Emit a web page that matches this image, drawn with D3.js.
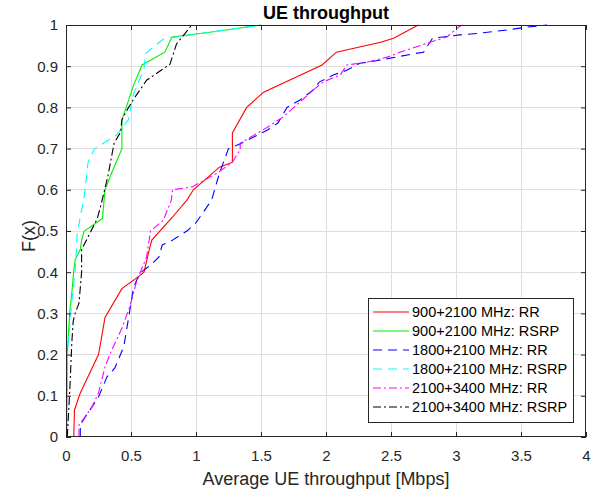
<!DOCTYPE html>
<html>
<head>
<meta charset="utf-8">
<script src="https://cdn.jsdelivr.net/npm/d3@7"></script>
<style>
  html, body { margin: 0; padding: 0; background: #fff; }
  svg { display: block; font-family: Arial, "Liberation Sans", Helvetica, sans-serif; }
</style>
</head>
<body>
<svg id="chart" width="600" height="493"></svg>
<script>
// Empirical CDFs of average UE throughput for each band combination / scheduler
const seriesNames = [
  "900+2100 MHz: RR",
  "900+2100 MHz: RSRP",
  "1800+2100 MHz: RR",
  "1800+2100 MHz: RSRP",
  "2100+3400 MHz: RR",
  "2100+3400 MHz: RSRP"
];

const rr900X = [0.06,0.065,0.11,0.22,0.25,0.27,0.30,0.43,0.56,0.60,0.64,0.66,0.82,0.93,0.98,1.18,1.28,1.28,1.39,1.52,1.97,2.08,2.42,2.52,2.71];
const rr900Y = [0,0.065,0.107,0.18,0.20,0.235,0.29,0.36,0.39,0.40,0.454,0.478,0.534,0.575,0.60,0.655,0.667,0.738,0.80,0.837,0.903,0.934,0.958,0.968,1.0];

const rsrp900X = [0.005,0.01,0.03,0.045,0.06,0.07,0.11,0.12,0.14,0.28,0.30,0.35,0.43,0.43,0.47,0.52,0.585,0.76,0.815,1.12,1.5];
const rsrp900Y = [0,0.204,0.308,0.35,0.405,0.43,0.455,0.478,0.50,0.53,0.60,0.64,0.70,0.77,0.806,0.854,0.903,0.934,0.971,0.983,1.0];

const rr1800X = [0.11,0.11,0.25,0.315,0.375,0.445,0.485,0.52,0.57,0.65,0.715,0.74,0.80,0.93,1.0,1.12,1.18,1.25,1.35,1.55,1.63,1.70,1.80,1.90,1.95,2.06,2.16,2.26,2.42,2.67,2.75,2.82,3.03,3.18,3.39,3.55,3.70];
const rr1800Y = [0,0.03,0.097,0.146,0.167,0.22,0.296,0.364,0.398,0.417,0.437,0.466,0.474,0.50,0.52,0.575,0.64,0.70,0.713,0.745,0.762,0.80,0.818,0.842,0.862,0.879,0.89,0.907,0.915,0.93,0.934,0.968,0.976,0.98,0.988,0.995,1.0];

const rsrp1800X = [0.005,0.01,0.02,0.045,0.07,0.08,0.085,0.11,0.14,0.17,0.22,0.39,0.48,0.52,0.60,0.61,0.70,0.75,1.12,1.5];
const rsrp1800Y = [0,0.2,0.235,0.33,0.40,0.455,0.49,0.534,0.583,0.667,0.70,0.733,0.77,0.833,0.893,0.93,0.954,0.966,0.983,1.0];

const rr3400X = [0.10,0.10,0.14,0.20,0.25,0.30,0.35,0.43,0.49,0.545,0.585,0.62,0.65,0.75,0.81,0.82,0.97,1.16,1.28,1.34,1.34,1.55,1.67,1.80,1.90,1.98,2.11,2.16,2.32,2.47,2.57,2.80,2.93,3.02,3.05];
const rr3400Y = [0,0.03,0.046,0.073,0.107,0.17,0.21,0.264,0.316,0.38,0.41,0.437,0.50,0.527,0.575,0.60,0.607,0.64,0.667,0.697,0.713,0.752,0.777,0.813,0.842,0.862,0.879,0.903,0.91,0.922,0.934,0.958,0.971,0.995,1.0];

const rsrp3400X = [0.01,0.02,0.03,0.045,0.055,0.07,0.10,0.12,0.12,0.185,0.24,0.265,0.32,0.37,0.42,0.43,0.47,0.52,0.62,0.685,0.80,0.85,0.955,0.96];
const rsrp3400Y = [0,0.058,0.12,0.23,0.28,0.30,0.325,0.40,0.455,0.495,0.53,0.558,0.63,0.713,0.74,0.77,0.794,0.82,0.866,0.88,0.905,0.954,0.995,1.0];

const xTicks = [0, 0.5, 1, 1.5, 2, 2.5, 3, 3.5, 4];
const yTicks = [0, 0.1, 0.2, 0.3, 0.4, 0.5, 0.6, 0.7, 0.8, 0.9, 1];

const series = [
  { name: seriesNames[0], xs: rr900X,   ys: rr900Y,   color: "#ff0000", dash: null },
  { name: seriesNames[1], xs: rsrp900X, ys: rsrp900Y, color: "#00ee00", dash: null },
  { name: seriesNames[2], xs: rr1800X,  ys: rr1800Y,  color: "#0000ff", dash: "9,6" },
  { name: seriesNames[3], xs: rsrp1800X,ys: rsrp1800Y,color: "#00ffff", dash: "9,6" },
  { name: seriesNames[4], xs: rr3400X,  ys: rr3400Y,  color: "#ff00ff", dash: "8,3,2,3" },
  { name: seriesNames[5], xs: rsrp3400X,ys: rsrp3400Y,color: "#000000", dash: "8,3,2,3" }
];

const svg = d3.select("#chart");
const pLeft = 66, pRight = 586, pTop = 25, pBottom = 437;
const axisColor = "#262626";
const gridColor = "#dedede";

const x = d3.scaleLinear().domain([0, 4]).range([pLeft, pRight]);
const y = d3.scaleLinear().domain([0, 1]).range([pBottom, pTop]);

// Plot background
svg.append("rect").attr("x", pLeft).attr("y", pTop)
  .attr("width", pRight - pLeft).attr("height", pBottom - pTop).attr("fill", "#fff");

// Grid lines
const grid = svg.append("g");
grid.selectAll(".gx").data(xTicks.slice(1, -1)).join("line")
  .attr("x1", d => x(d)).attr("x2", d => x(d))
  .attr("y1", pTop).attr("y2", pBottom)
  .attr("stroke", gridColor).attr("stroke-width", 1).attr("shape-rendering", "crispEdges");
grid.selectAll(".gy").data(yTicks.slice(1, -1)).join("line")
  .attr("x1", pLeft).attr("x2", pRight)
  .attr("y1", d => y(d)).attr("y2", d => y(d))
  .attr("stroke", gridColor).attr("stroke-width", 1).attr("shape-rendering", "crispEdges");

// CDF curves
const line = d3.line().x(d => x(d[0])).y(d => y(d[1]));
const curves = svg.append("g");
series.forEach(s => {
  const pts = s.xs.map((v, i) => [v, s.ys[i]]);
  curves.append("path")
    .attr("d", line(pts))
    .attr("fill", "none")
    .attr("stroke", s.color)
    .attr("stroke-width", 1.1)
    .attr("stroke-dasharray", s.dash);
});

// Axes with inward ticks (bottom/left labelled, top/right mirrored)
const tickStyle = g => {
  g.select(".domain").remove();
  g.selectAll(".tick line").attr("stroke", axisColor);
  g.selectAll(".tick text").attr("fill", axisColor).attr("font-size", 15)
    .attr("font-family", "Arial, 'Liberation Sans', sans-serif");
};

svg.append("g").attr("transform", `translate(0,${pBottom})`)
  .call(d3.axisBottom(x).tickValues(xTicks).tickFormat(d3.format("")).tickSizeInner(-5).tickPadding(13))
  .call(tickStyle);
svg.append("g").attr("transform", `translate(0,${pTop})`)
  .call(d3.axisTop(x).tickValues(xTicks).tickFormat("").tickSizeInner(-5))
  .call(tickStyle);
svg.append("g").attr("transform", `translate(${pLeft},0)`)
  .call(d3.axisLeft(y).tickValues(yTicks).tickFormat(d3.format("")).tickSizeInner(-5).tickPadding(8))
  .call(tickStyle);
svg.append("g").attr("transform", `translate(${pRight},0)`)
  .call(d3.axisRight(y).tickValues(yTicks).tickFormat("").tickSizeInner(-5))
  .call(tickStyle);

// Axes box
svg.append("rect").attr("x", pLeft + 0.5).attr("y", pTop + 0.5)
  .attr("width", pRight - pLeft - 1).attr("height", pBottom - pTop - 1)
  .attr("fill", "none").attr("stroke", axisColor).attr("stroke-width", 1);

// Title and axis labels
svg.append("text").attr("x", (pLeft + pRight) / 2).attr("y", 19)
  .attr("text-anchor", "middle").attr("font-size", 18).attr("font-weight", "bold")
  .attr("fill", "#000").text("UE throughput");
svg.append("text").attr("x", (pLeft + pRight) / 2).attr("y", 485)
  .attr("text-anchor", "middle").attr("font-size", 18).attr("fill", axisColor)
  .text("Average UE throughput [Mbps]");
svg.append("text").attr("transform", `translate(35,236) rotate(-90)`)
  .attr("text-anchor", "middle").attr("font-size", 18).attr("fill", axisColor)
  .text("F(x)");

// Legend
const lg = svg.append("g");
const lgX = 368, lgY = 298, lgW = 205, lgH = 124, rowH = 19;
lg.append("rect").attr("x", lgX + 0.5).attr("y", lgY + 0.5).attr("width", lgW).attr("height", lgH)
  .attr("fill", "#fff").attr("stroke", axisColor).attr("stroke-width", 1);
series.forEach((s, i) => {
  const cy = lgY + 14 + i * rowH;
  lg.append("line").attr("x1", lgX + 5).attr("x2", lgX + 41)
    .attr("y1", cy).attr("y2", cy)
    .attr("stroke", s.color).attr("stroke-width", 1.1)
    .attr("stroke-dasharray", s.dash);
  lg.append("text").attr("x", lgX + 44).attr("y", cy).attr("dy", "0.35em")
    .attr("font-size", 14.5).attr("fill", "#000").text(s.name);
});
</script>
</body>
</html>
